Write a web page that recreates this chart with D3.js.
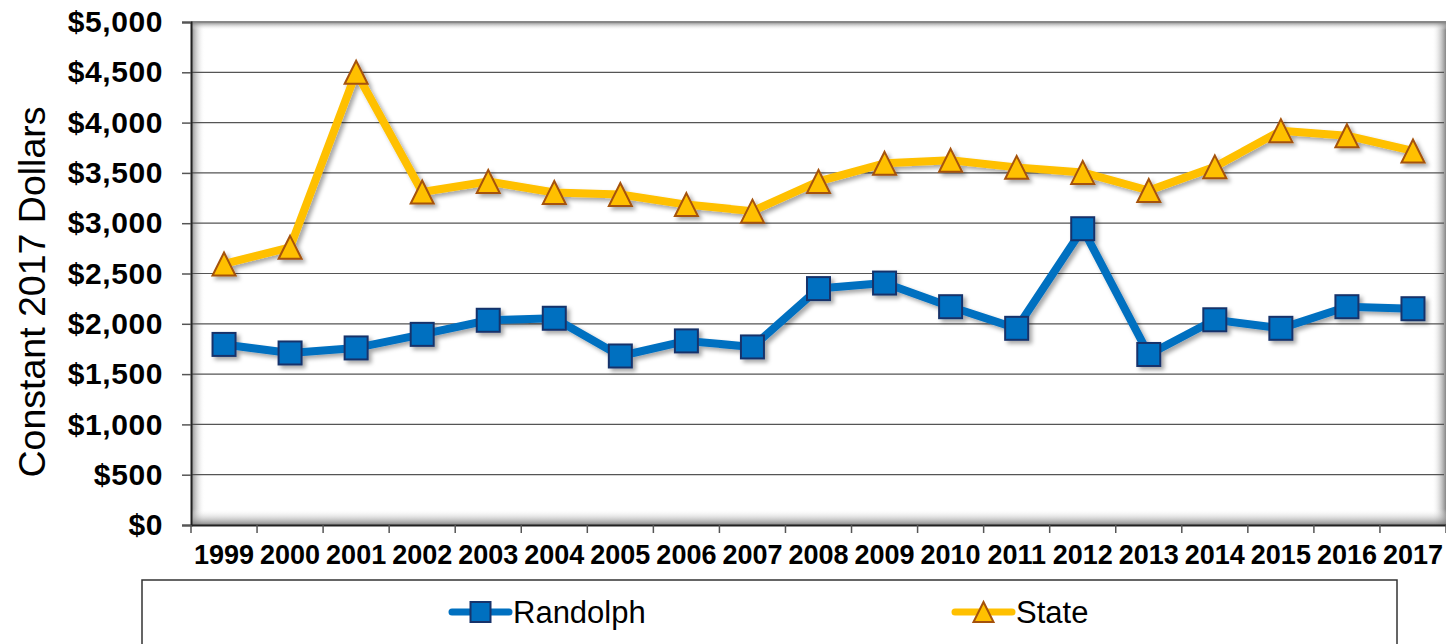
<!DOCTYPE html>
<html>
<head>
<meta charset="utf-8">
<script src="https://cdn.jsdelivr.net/npm/d3@7"></script>
<style>
  body { margin: 0; background: #fff; }
  text { font-family: "Liberation Sans", Arial, sans-serif; }
</style>
</head>
<body>
<div id="chart"></div>
<script>
// data
const years = ["1999","2000","2001","2002","2003","2004","2005","2006","2007","2008",
               "2009","2010","2011","2012","2013","2014","2015","2016","2017"];
const randolph = [1795, 1710, 1760, 1895, 2035, 2055, 1680, 1830, 1770, 2350,
                  2405, 2170, 1955, 2945, 1695, 2040, 1955, 2170, 2150];
const state = [2595, 2760, 4500, 3310, 3415, 3305, 3285, 3185, 3120, 3415,
               3595, 3625, 3555, 3505, 3325, 3560, 3920, 3870, 3718];
const yTicks = [0, 500, 1000, 1500, 2000, 2500, 3000, 3500, 4000, 4500, 5000];
const seriesNames = ["Randolph", "State"];

const width = 1446, height = 644;
const plotLeft = 191, plotRight = 1446, plotTop = 22, plotBottom = 525;

const svg = d3.select("#chart").append("svg")
    .attr("width", width)
    .attr("height", height);

const defs = svg.append("defs");
const shadow = defs.append("filter").attr("id", "shadow")
    .attr("x", "-20%").attr("y", "-20%").attr("width", "140%").attr("height", "140%");
shadow.append("feDropShadow")
    .attr("dx", 3).attr("dy", 3).attr("stdDeviation", 2)
    .attr("flood-color", "#000").attr("flood-opacity", 0.35);

// inner shadow gradients of the plot frame
const grad = (id, x1, y1, x2, y2) => {
  const g = defs.append("linearGradient").attr("id", id)
      .attr("x1", x1).attr("y1", y1).attr("x2", x2).attr("y2", y2);
  g.append("stop").attr("offset", "0%").attr("stop-color", "#777").attr("stop-opacity", 0.9);
  g.append("stop").attr("offset", "100%").attr("stop-color", "#fff").attr("stop-opacity", 0);
};
grad("gLeft", "0", "0", "1", "0");
grad("gRight", "1", "0", "0", "0");
grad("gBottom", "0", "1", "0", "0");
grad("gTop", "0", "0", "0", "1");

const x = d3.scaleBand().domain(years).range([plotLeft, plotRight]);
const y = d3.scaleLinear().domain([0, 5000]).range([plotBottom, plotTop]);

// plot background
svg.append("rect")
    .attr("x", plotLeft).attr("y", plotTop)
    .attr("width", plotRight - plotLeft).attr("height", plotBottom - plotTop)
    .attr("fill", "#fff");
svg.append("rect").attr("x", plotLeft).attr("y", plotTop).attr("width", 14).attr("height", plotBottom - plotTop)
    .attr("fill", "url(#gLeft)");
svg.append("rect").attr("x", plotRight - 14).attr("y", plotTop).attr("width", 14).attr("height", plotBottom - plotTop)
    .attr("fill", "url(#gRight)");
svg.append("rect").attr("x", plotLeft).attr("y", plotBottom - 16).attr("width", plotRight - plotLeft).attr("height", 16)
    .attr("fill", "url(#gBottom)");
svg.append("rect").attr("x", plotLeft).attr("y", plotTop).attr("width", plotRight - plotLeft).attr("height", 8)
    .attr("fill", "url(#gTop)");
svg.append("line")
    .attr("x1", plotLeft).attr("x2", plotRight).attr("y1", plotTop).attr("y2", plotTop)
    .attr("stroke", "#888").attr("stroke-width", 2);

// gridlines
svg.append("g")
    .selectAll("line")
    .data(yTicks.filter(d => d > 0 && d < 5000))
    .enter().append("line")
    .attr("x1", plotLeft).attr("x2", plotRight - 2)
    .attr("y1", d => y(d)).attr("y2", d => y(d))
    .attr("stroke", "#555").attr("stroke-width", 1.2);

// y axis
const yAxis = svg.append("g")
    .attr("transform", `translate(${plotLeft},0)`)
    .call(d3.axisLeft(y).tickValues(yTicks).tickSize(9).tickPadding(19)
      .tickFormat(d => "$" + d3.format(",")(d)));
yAxis.select(".domain").attr("stroke", "#222").attr("stroke-width", 2);
yAxis.selectAll(".tick line").attr("stroke", "#555").attr("stroke-width", 1.5);
yAxis.selectAll("text")
    .attr("font-size", 30).attr("font-weight", "bold").attr("fill", "#000")
    .attr("letter-spacing", 0.6)
    .attr("font-family", "Liberation Sans, Arial, sans-serif");

// x axis
const xAxis = svg.append("g")
    .attr("transform", `translate(0,${plotBottom})`)
    .call(d3.axisBottom(x).tickSize(0).tickPadding(20));
xAxis.select(".domain").attr("stroke", "#222").attr("stroke-width", 2);
xAxis.selectAll("text")
    .attr("font-size", 27).attr("font-weight", "bold").attr("fill", "#000")
    .attr("font-family", "Liberation Sans, Arial, sans-serif");
xAxis.append("g")
    .selectAll("line")
    .data(years.concat(["end"]))
    .enter().append("line")
    .attr("x1", (d, i) => plotLeft + i * x.bandwidth())
    .attr("x2", (d, i) => plotLeft + i * x.bandwidth())
    .attr("y1", 0).attr("y2", 8)
    .attr("stroke", "#555").attr("stroke-width", 1.5);

// axis title
svg.append("text")
    .attr("transform", "translate(45,292) rotate(-90)")
    .attr("text-anchor", "middle")
    .attr("font-size", 37.5)
    .attr("fill", "#000")
    .text("Constant 2017 Dollars");

const cx = (d, i) => x(years[i]) + x.bandwidth() / 2;
const line = d3.line().x((d, i) => cx(d, i)).y(d => y(d));

const triPath = (s) => `M0,${-s / 2}L${s / 2},${s / 2}L${-s / 2},${s / 2}Z`;

// State series
const gState = svg.append("g").attr("filter", "url(#shadow)");
gState.append("path").datum(state)
    .attr("d", line).attr("fill", "none")
    .attr("stroke", "#ffc000").attr("stroke-width", 8).attr("stroke-linejoin", "round");
gState.selectAll("path.m").data(state).enter().append("path")
    .attr("class", "m")
    .attr("d", triPath(23))
    .attr("transform", (d, i) => `translate(${cx(d, i)},${y(d)})`)
    .attr("fill", "#ffc000").attr("stroke", "#a5520b").attr("stroke-width", 2);

// Randolph series
const gRand = svg.append("g").attr("filter", "url(#shadow)");
gRand.append("path").datum(randolph)
    .attr("d", line).attr("fill", "none")
    .attr("stroke", "#0070c0").attr("stroke-width", 8).attr("stroke-linejoin", "round");
gRand.selectAll("rect").data(randolph).enter().append("rect")
    .attr("x", (d, i) => cx(d, i) - 11.5).attr("y", d => y(d) - 11.5)
    .attr("width", 23).attr("height", 23)
    .attr("fill", "#0070c0").attr("stroke", "#17336b").attr("stroke-width", 2);

// legend
svg.append("rect")
    .attr("x", 142).attr("y", 580)
    .attr("width", 1255).attr("height", 80)
    .attr("fill", "#fff").attr("stroke", "#333").attr("stroke-width", 1.5);

const legendItems = [
  { name: seriesNames[0], x: 452, color: "#0070c0", stroke: "#17336b", shape: "square" },
  { name: seriesNames[1], x: 955, color: "#ffc000", stroke: "#a5520b", shape: "triangle" }
];
const lg = svg.append("g").selectAll("g").data(legendItems).enter().append("g")
    .attr("transform", d => `translate(${d.x},612)`);
lg.append("line")
    .attr("x1", 0).attr("x2", 57).attr("y1", 0).attr("y2", 0)
    .attr("stroke", d => d.color).attr("stroke-width", 7).attr("stroke-linecap", "round");
lg.filter(d => d.shape === "square").append("rect")
    .attr("x", 18.5).attr("y", -10).attr("width", 20).attr("height", 20)
    .attr("fill", d => d.color).attr("stroke", d => d.stroke).attr("stroke-width", 2);
lg.filter(d => d.shape === "triangle").append("path")
    .attr("d", triPath(20)).attr("transform", "translate(28.5,0)")
    .attr("fill", d => d.color).attr("stroke", d => d.stroke).attr("stroke-width", 2);
lg.append("text")
    .attr("x", 61).attr("y", 11)
    .attr("font-size", 31).attr("fill", "#000")
    .text(d => d.name);
</script>
</body>
</html>
